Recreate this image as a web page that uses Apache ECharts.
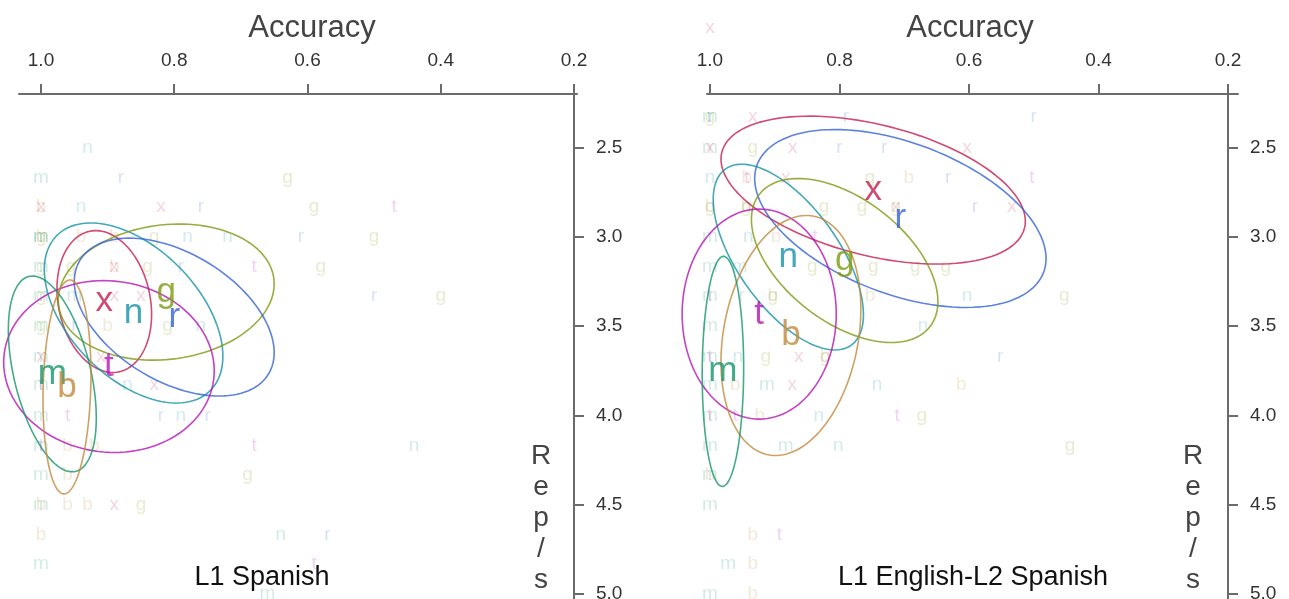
<!DOCTYPE html>
<html>
<head>
<meta charset="utf-8">
<script src="https://cdn.jsdelivr.net/npm/echarts@6/dist/echarts.min.js"></script>
<style>
  html, body { margin: 0; padding: 0; background: #fff; }
  #chart { width: 1289px; height: 599px; }
</style>
</head>
<body>
<div id="chart"></div>
<script>
// * tick labels
const accTicks = [0.2, 0.4, 0.6, 0.8, 1.0]
const rateTicks = [2.5, 3.0, 3.5, 4.0, 4.5, 5.0]

// * L1 Spanish - one [accuracy, rep/s] pair per speaker
const sp_m = [[1.0,2.67],[1.0,3.0],[1.0,3.0],[1.0,3.17],[1.0,3.33],[0.95,3.33],[1.0,3.5],[1.0,3.67],[1.0,3.83],[1.0,4.0],[1.0,4.17],[1.0,4.33],[1.0,4.5],[1.0,4.83],[0.66,5.0]]
const sp_b = [[1.0,2.83],[1.0,3.0],[0.94,3.0],[0.89,3.0],[0.89,3.17],[0.90,3.5],[0.96,4.17],[0.92,4.17],[0.96,4.33],[1.0,4.5],[0.96,4.5],[0.93,4.5],[1.0,4.67]]
const sp_t = [[0.47,2.83],[0.68,3.17],[1.0,3.83],[0.96,4.0],[1.0,4.17],[0.68,4.17],[0.59,4.83]]
const sp_x = [[1.0,2.83],[0.82,2.83],[0.89,3.17],[0.89,3.33],[0.85,3.33],[1.0,3.67],[0.91,3.67],[0.83,3.83],[0.89,4.5]]
const sp_n = [[0.93,2.5],[0.94,2.83],[0.78,3.0],[0.72,3.0],[0.76,3.5],[0.87,3.83],[0.79,4.0],[0.44,4.17],[0.64,4.67]]
const sp_g = [[0.63,2.67],[0.59,2.83],[1.0,3.0],[0.83,3.0],[0.50,3.0],[1.0,3.17],[0.955,3.17],[0.84,3.17],[0.58,3.17],[1.0,3.33],[0.40,3.33],[1.0,3.5],[0.81,3.5],[0.69,4.33],[0.85,4.5]]
const sp_r = [[0.88,2.67],[0.76,2.83],[0.61,3.0],[0.79,3.17],[0.50,3.33],[0.95,3.5],[0.82,4.0],[0.75,4.0],[0.57,4.67]]

// * L1 English-L2 Spanish
const en_m = [[1.0,2.33],[1.0,2.5],[1.0,3.0],[1.0,3.17],[0.954,3.17],[1.0,3.33],[1.0,3.5],[1.0,3.67],[1.0,3.83],[0.912,3.83],[1.0,4.0],[1.0,4.17],[0.883,4.17],[1.0,4.33],[1.0,4.5],[0.972,4.83],[1.0,5.0]]
const en_b = [[0.943,2.67],[0.693,2.67],[1.0,2.83],[0.944,2.83],[0.898,3.0],[0.903,3.33],[0.753,3.33],[0.822,3.67],[0.961,3.83],[0.612,3.83],[0.923,4.0],[1.0,4.33],[0.934,4.67],[0.934,4.83],[0.934,5.0]]
const en_t = [[0.943,2.67],[0.503,2.67],[0.838,3.0],[1.0,3.33],[1.0,3.67],[1.0,4.0],[0.961,4.0],[0.711,4.0],[0.893,4.67]]
const en_x = [[1.0,1.83],[0.934,2.33],[1.0,2.5],[0.872,2.5],[0.603,2.5],[0.883,2.67],[0.713,2.83],[0.534,2.83],[0.863,3.67],[0.873,3.83]]
const en_n = [[1.0,2.67],[0.941,3.0],[0.603,3.33],[0.671,3.5],[0.957,3.67],[0.742,3.83],[0.832,4.0],[0.802,4.17]]
const en_g = [[1.0,2.33],[0.934,2.5],[0.753,2.67],[1.0,2.83],[0.944,2.83],[0.824,2.83],[0.765,2.83],[0.713,2.83],[0.842,3.17],[0.748,3.17],[0.683,3.17],[0.636,3.17],[0.903,3.33],[0.453,3.33],[0.914,3.67],[0.822,3.67],[0.673,4.0],[0.444,4.17]]
const en_r = [[1.0,2.33],[0.79,2.33],[0.50,2.33],[0.80,2.5],[0.731,2.5],[0.632,2.67],[0.591,2.83],[0.951,3.33],[0.552,3.67]]

// * group ellipses: [letter, mean accuracy, mean rep/s, sd accuracy, sd rep/s, correlation]
const spEllipses = [
  ['x', 0.905, 3.362, 0.071, 0.397, -0.18],
  ['n', 0.861, 3.426, 0.134, 0.504, -0.48],
  ['g', 0.812, 3.309, 0.162, 0.381, 0.12],
  ['r', 0.800, 3.449, 0.150, 0.442, -0.45],
  ['t', 0.898, 3.726, 0.158, 0.481, -0.05],
  ['m', 0.983, 3.767, 0.066, 0.548, -0.45],
  ['b', 0.961, 3.840, 0.036, 0.599, 0.12]
]
const enEllipses = [
  ['x', 0.748, 2.738, 0.235, 0.414, -0.42],
  ['r', 0.706, 2.897, 0.225, 0.498, -0.45],
  ['n', 0.879, 3.113, 0.116, 0.520, -0.62],
  ['g', 0.792, 3.132, 0.144, 0.459, -0.50],
  ['t', 0.924, 3.432, 0.119, 0.588, 0.0],
  ['b', 0.875, 3.552, 0.108, 0.672, 0.22],
  ['m', 0.980, 3.753, 0.032, 0.644, 0.03]
]

const FONT = '"Liberation Sans", Arial, sans-serif'
const colors = {
  m: '#14966b', b: '#c28a3c', t: '#b414b4', x: '#c41e50',
  n: '#1592a8', g: '#7c9a10', r: '#3562d6'
}

function fade(hex, a) {
  const v = parseInt(hex.slice(1), 16)
  return `rgba(${(v >> 16) & 255},${(v >> 8) & 255},${v & 255},${a})`
}

// faint letters for every speaker
function pointSeries(letter, pts, gi) {
  return {
    type: 'scatter',
    xAxisIndex: gi,
    yAxisIndex: gi,
    data: pts,
    symbolSize: 1,
    itemStyle: { color: 'rgba(0,0,0,0)' },
    label: {
      show: true,
      position: 'inside',
      formatter: letter,
      fontSize: 19,
      fontFamily: FONT,
      color: fade(colors[letter], 0.24),
      textBorderWidth: 0
    },
    clip: false,
    silent: true,
    z: 1
  }
}

// ellipse outline drawn through the axes' own scales
function ellipseSeries(ells, gi) {
  return {
    type: 'custom',
    xAxisIndex: gi,
    yAxisIndex: gi,
    data: ells.map(e => e.slice(1)),
    encode: { x: 0, y: 1 },
    clip: false,
    silent: true,
    z: 2,
    renderItem(params, api) {
      const e = ells[params.dataIndex]
      const [cx, cy, sx, sy, rho] = e.slice(1)
      const k = Math.sqrt(1 - rho * rho)
      const points = []
      for (let i = 0; i <= 120; i++) {
        const a = (i / 120) * Math.PI * 2
        points.push(api.coord([cx + sx * Math.cos(a), cy + sy * (rho * Math.cos(a) + k * Math.sin(a))]))
      }
      return {
        type: 'polyline',
        shape: { points },
        style: { stroke: fade(colors[e[0]], 0.8), fill: 'none', lineWidth: 1.6 }
      }
    }
  }
}

// big letter at each group mean
function centerSeries(ells, gi) {
  return {
    type: 'scatter',
    xAxisIndex: gi,
    yAxisIndex: gi,
    data: ells.map(e => ({ name: e[0], value: [e[1], e[2]], label: { color: colors[e[0]] } })),
    symbolSize: 1,
    itemStyle: { color: 'rgba(0,0,0,0)' },
    label: { show: true, position: 'inside', formatter: '{b}', fontSize: 35, fontFamily: FONT, textBorderWidth: 0 },
    clip: false,
    silent: true,
    z: 3
  }
}

function xAxisOf(gi, min, max) {
  return {
    gridIndex: gi,
    type: 'value',
    position: 'top',
    inverse: true,
    min: min,
    max: max,
    axisLine: { show: true, lineStyle: { color: '#6b6b6b', width: 2 } },
    axisTick: { show: true, length: 10, customValues: accTicks, lineStyle: { color: '#6b6b6b', width: 2 } },
    axisLabel: { customValues: accTicks, formatter: v => v.toFixed(1), fontSize: 19, fontFamily: FONT, color: '#333', margin: 24 },
    splitLine: { show: false }
  }
}

function yAxisOf(gi, offset) {
  return {
    gridIndex: gi,
    type: 'value',
    position: 'right',
    inverse: true,
    min: 2.2,
    max: 5.1,
    offset: offset,
    axisLine: { show: true, lineStyle: { color: '#6b6b6b', width: 2 } },
    axisTick: { show: true, length: 10, customValues: rateTicks, lineStyle: { color: '#6b6b6b', width: 2 } },
    axisLabel: { customValues: rateTicks, formatter: v => v.toFixed(1), fontSize: 19, fontFamily: FONT, color: '#333', margin: 22 },
    splitLine: { show: false }
  }
}

function text(str, x, y, size, color, extra) {
  return Object.assign({
    type: 'text',
    x: x,
    y: y,
    silent: true,
    style: { text: str, fontSize: size, fontFamily: FONT, fill: color, align: 'center', verticalAlign: 'middle' }
  }, extra || {})
}

const repStyle = { text: 'R\ne\np\n/\ns', fontSize: 28, fontFamily: FONT, fill: '#444', align: 'center', verticalAlign: 'top', lineHeight: 31 }

const chart = echarts.init(document.getElementById('chart'))

const option = {
  animation: false,
  backgroundColor: '#fff',
  grid: [
    { left: 19, top: 94, width: 558, height: 518, outerBoundsMode: 'none', containLabel: false },
    { left: 707, top: 94, width: 531, height: 518, outerBoundsMode: 'none', containLabel: false }
  ],
  xAxis: [xAxisOf(0, 0.1955, 1.033), xAxisOf(1, 0.1846, 1.0046)],
  yAxis: [yAxisOf(0, -3), yAxisOf(1, -10)],
  graphic: [
    text('Accuracy', 312, 28, 31, '#444'),
    text('Accuracy', 970, 28, 31, '#444'),
    text('', 541, 441, 28, '#444', { style: repStyle }),
    text('', 1193, 441, 28, '#444', { style: repStyle }),
    text('L1 Spanish', 262, 578, 27, '#111'),
    text('L1 English-L2 Spanish', 973, 578, 27, '#111')
  ],
  series: [
    pointSeries('m', sp_m, 0), pointSeries('b', sp_b, 0), pointSeries('t', sp_t, 0),
    pointSeries('x', sp_x, 0), pointSeries('n', sp_n, 0), pointSeries('g', sp_g, 0),
    pointSeries('r', sp_r, 0),
    pointSeries('m', en_m, 1), pointSeries('b', en_b, 1), pointSeries('t', en_t, 1),
    pointSeries('x', en_x, 1), pointSeries('n', en_n, 1), pointSeries('g', en_g, 1),
    pointSeries('r', en_r, 1),
    ellipseSeries(spEllipses, 0), ellipseSeries(enEllipses, 1),
    centerSeries(spEllipses, 0), centerSeries(enEllipses, 1)
  ]
}

chart.setOption(option)
</script>
</body>
</html>
